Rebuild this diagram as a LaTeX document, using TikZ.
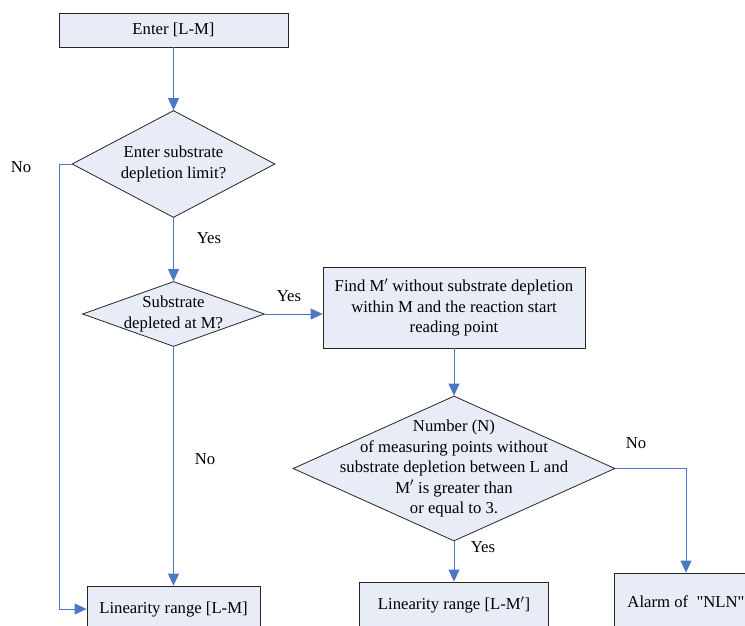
\documentclass[tikz,border=0pt]{standalone}
\usepackage{fontspec}
\setmainfont{Liberation Serif}
\usepackage{xcolor}
\usepackage{tikz}
\usetikzlibrary{positioning, arrows.meta, shapes.geometric}

\definecolor{boxfill}{RGB}{232,236,247}
\definecolor{flowblue}{RGB}{74,120,196}

\begin{document}
\begin{tikzpicture}[x=1pt, y=-1pt, font=\fontsize{16.7}{20.5}\selectfont]

% --- Styles ---
\tikzset{
    procbox/.style={rectangle, draw=black!85, fill=boxfill, line width=0.8pt, align=center, inner sep=0pt},
    decision/.style={diamond, draw=black!85, fill=boxfill, line width=0.8pt, inner sep=0pt},
    flow/.style={draw=flowblue, line width=0.9pt, -{Triangle[length=12pt, width=11pt]}},
    flowlabel/.style={inner sep=0pt},
}

\useasboundingbox (0,0) rectangle (745,625);
\clip (0,0) rectangle (745,625);

% --- Row 1: start box and first question ---
\node[procbox, minimum width=229pt, minimum height=34pt] (start) at (173.5,30) {Enter [L-M]};

\node[decision, minimum width=203pt, minimum height=107pt] (asklim) at (173.5,164) {};
\node[align=center] (asklimtxt) at (asklim) {Enter substrate\\depletion limit?};

% --- Row 2: depletion check and search for M' ---
\node[decision, minimum width=182pt, minimum height=65pt] (depl) at (173.5,314) {};
\node[align=center] (depltxt) at (depl) {Substrate\\depleted at M?};

\node[procbox, minimum width=262pt, minimum height=81pt] (findm) at (454,307.5) {
    Find M$'$ without substrate depletion\\
    within M and the reaction start\\
    reading point
};

% --- Row 3: count check ---
\node[decision, minimum width=322pt, minimum height=145pt] (numn) at (454,468.5) {};
\node[align=center] (numntxt) at (numn) {
    Number (N)\\
    of measuring points without\\
    substrate depletion between L and\\
    M$'$ is greater than\\
    or equal to 3.
};

% --- Row 4: results (cut at the bottom edge) ---
\node[procbox, minimum width=173pt, minimum height=46pt] (linlm) at (173.5,609) {Linearity range [L-M]};
\node[procbox, minimum width=189pt, minimum height=46pt] (linlmp) at (454,605) {Linearity range [L-M$'$]};
\node[procbox, minimum width=144pt, minimum height=58pt] (alarm) at (686,602) {Alarm of~ {\addfontfeature{Ligatures=TeXOff}"NLN"}};

% --- Connectors ---
\draw[flow] (start) -- (asklim);
\draw[flow] (asklim.west) -- (59,164) -- (59,609) -- (linlm.west);
\draw[flow] (asklim) -- (depl);
\draw[flow] (depl) -- (linlm);
\draw[flow] (depl.east) -- (depl.east -| findm.west);
\draw[flow] (findm.south) -- (numn.north);
\draw[flow] (numn) -- (linlmp);
\draw[flow] (numn.east) -| (alarm.north);

% --- Labels ---
\node[flowlabel] (noskip) at (21,167) {No};
\node[flowlabel] (yeslim) at (209,238) {Yes};
\node[flowlabel] (nodepl) at (205,459) {No};
\node[flowlabel] (yesdepl) at (289,296) {Yes};
\node[flowlabel] (nonum) at (636,443) {No};
\node[flowlabel] (yesnum) at (483,547) {Yes};

\end{tikzpicture}
\end{document}
